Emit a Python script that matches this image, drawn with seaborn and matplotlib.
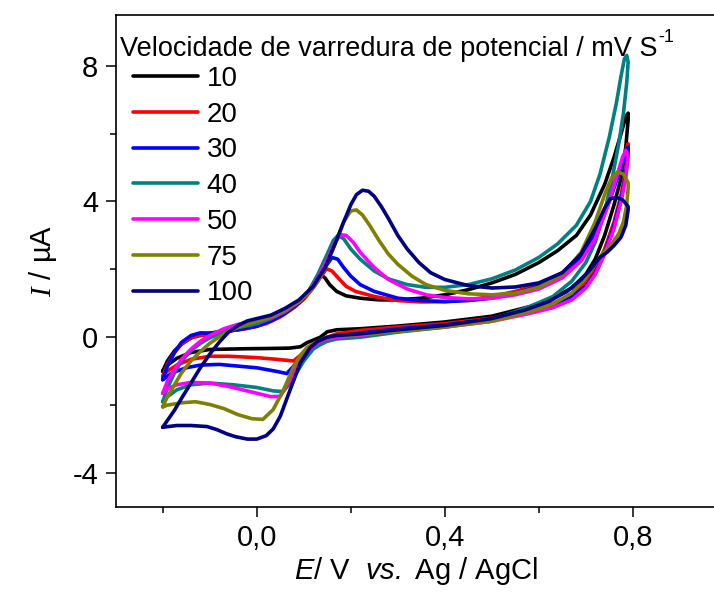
import matplotlib
matplotlib.use("Agg")
import matplotlib.pyplot as plt
import matplotlib.ticker as mticker
from matplotlib.lines import Line2D
import seaborn as sns
import pandas as pd

# ---- data ----
speeds = ["10", "20", "30", "40", "50", "75", "100"]
colors = ["#000000", "#FF0000", "#0000FF", "#008080", "#FF00FF", "#808000", "#000080"]

E_10 = [-0.2, -0.19, -0.175, -0.16, -0.14, -0.12, -0.1, -0.07, -0.04, 0.0, 0.03, 0.06, 0.08, 0.1, 0.115, 0.125, 0.135, 0.145, 0.155, 0.17, 0.19, 0.22, 0.26, 0.3, 0.35, 0.4, 0.45, 0.5, 0.55, 0.6, 0.64, 0.68, 0.71, 0.74, 0.76, 0.775, 0.785, 0.79,
        0.79, 0.785, 0.775, 0.76, 0.74, 0.72, 0.7, 0.67, 0.63, 0.58, 0.5, 0.4, 0.3, 0.22, 0.17, 0.15, 0.135, 0.107, 0.093, 0.07, 0.03, -0.03, -0.1, -0.14, -0.17, -0.19, -0.2]
I_10 = [-1.0, -0.7, -0.4, -0.2, -0.02, 0.08, 0.12, 0.18, 0.22, 0.32, 0.48, 0.7, 0.9, 1.15, 1.45, 1.68, 1.85, 1.75, 1.55, 1.35, 1.22, 1.15, 1.1, 1.1, 1.15, 1.25, 1.4, 1.6, 1.85, 2.2, 2.55, 3.0, 3.6, 4.5, 5.3, 6.0, 6.5, 6.6,
        6.4, 5.6, 4.7, 3.9, 3.0, 2.3, 1.85, 1.45, 1.15, 0.9, 0.62, 0.45, 0.33, 0.25, 0.22, 0.16, 0.0, -0.16, -0.28, -0.32, -0.33, -0.34, -0.36, -0.45, -0.62, -0.82, -1.0]

E_20 = [-0.2, -0.19, -0.175, -0.16, -0.14, -0.12, -0.1, -0.06, -0.02, 0.02, 0.05, 0.08, 0.1, 0.12, 0.135, 0.148, 0.16, 0.175, 0.19, 0.21, 0.25, 0.3, 0.35, 0.4, 0.45, 0.5, 0.55, 0.6, 0.65, 0.69, 0.72, 0.75, 0.77, 0.785, 0.79,
        0.79, 0.785, 0.775, 0.76, 0.74, 0.72, 0.7, 0.67, 0.63, 0.58, 0.5, 0.4, 0.3, 0.22, 0.17, 0.14, 0.12, 0.1, 0.078, 0.05, 0.0, -0.06, -0.1, -0.14, -0.17, -0.19, -0.2]
I_20 = [-1.15, -0.8, -0.45, -0.2, -0.02, 0.05, 0.08, 0.18, 0.26, 0.4, 0.6, 0.88, 1.12, 1.45, 1.75, 2.02, 1.95, 1.72, 1.5, 1.35, 1.2, 1.08, 1.04, 1.05, 1.1, 1.2, 1.35, 1.55, 1.9, 2.4, 3.1, 4.1, 4.9, 5.5, 5.7,
        5.5, 4.9, 4.2, 3.4, 2.6, 2.0, 1.6, 1.25, 1.0, 0.8, 0.56, 0.4, 0.3, 0.2, 0.1, -0.05, -0.2, -0.45, -0.7, -0.66, -0.6, -0.56, -0.56, -0.65, -0.82, -1.0, -1.15]

E_30 = [-0.2, -0.19, -0.175, -0.16, -0.14, -0.12, -0.1, -0.07, -0.03, 0.0, 0.03, 0.06, 0.09, 0.11, 0.13, 0.145, 0.16, 0.172, 0.185, 0.2, 0.22, 0.25, 0.3, 0.35, 0.4, 0.45, 0.5, 0.55, 0.6, 0.65, 0.69, 0.72, 0.75, 0.77, 0.785, 0.79,
        0.79, 0.785, 0.775, 0.76, 0.74, 0.72, 0.7, 0.67, 0.63, 0.58, 0.5, 0.4, 0.3, 0.22, 0.17, 0.14, 0.114, 0.085, 0.064, 0.04, 0.0, -0.04, -0.08, -0.12, -0.15, -0.18, -0.2]
I_30 = [-1.25, -0.85, -0.45, -0.15, 0.05, 0.13, 0.12, 0.16, 0.25, 0.33, 0.48, 0.7, 1.02, 1.3, 1.7, 2.05, 2.35, 2.3, 2.05, 1.8, 1.55, 1.35, 1.15, 1.08, 1.05, 1.08, 1.15, 1.3, 1.5, 1.85, 2.35, 3.0, 4.0, 4.8, 5.4, 5.6,
        5.4, 4.8, 4.1, 3.3, 2.5, 1.9, 1.5, 1.2, 0.95, 0.75, 0.52, 0.36, 0.25, 0.12, 0.02, -0.12, -0.36, -0.75, -1.07, -1.0, -0.9, -0.85, -0.8, -0.82, -0.9, -1.05, -1.25]

E_40 = [-0.2, -0.19, -0.175, -0.16, -0.14, -0.12, -0.1, -0.07, -0.04, 0.0, 0.03, 0.06, 0.09, 0.11, 0.13, 0.15, 0.163, 0.173, 0.185, 0.2, 0.22, 0.25, 0.28, 0.32, 0.36, 0.4, 0.45, 0.5, 0.55, 0.6, 0.64, 0.68, 0.71, 0.73, 0.75, 0.765, 0.775, 0.782, 0.787,
        0.79, 0.787, 0.78, 0.77, 0.755, 0.74, 0.72, 0.7, 0.67, 0.63, 0.58, 0.5, 0.4, 0.3, 0.22, 0.17, 0.15, 0.135, 0.12, 0.1, 0.08, 0.065, 0.056, 0.035, 0.0, -0.05, -0.1, -0.14, -0.17, -0.19, -0.2]
I_40 = [-1.9, -1.5, -1.05, -0.7, -0.4, -0.18, -0.02, 0.15, 0.28, 0.4, 0.55, 0.75, 1.05, 1.35, 1.85, 2.45, 2.85, 3.0, 2.9, 2.6, 2.3, 1.95, 1.72, 1.55, 1.47, 1.47, 1.55, 1.72, 1.98, 2.35, 2.75, 3.3, 4.0, 4.8, 5.9, 6.9, 7.7, 8.2, 8.3,
        8.1, 7.5, 6.6, 5.7, 4.6, 3.7, 2.8, 2.2, 1.65, 1.2, 0.9, 0.52, 0.3, 0.15, 0.0, -0.05, -0.12, -0.22, -0.35, -0.7, -1.15, -1.45, -1.6, -1.58, -1.48, -1.4, -1.35, -1.4, -1.55, -1.75, -1.9]

E_50 = [-0.2, -0.19, -0.175, -0.16, -0.14, -0.12, -0.1, -0.07, -0.04, 0.0, 0.03, 0.06, 0.09, 0.11, 0.13, 0.15, 0.165, 0.178, 0.19, 0.205, 0.22, 0.25, 0.28, 0.32, 0.36, 0.4, 0.45, 0.5, 0.55, 0.6, 0.65, 0.69, 0.72, 0.745, 0.765, 0.778, 0.785,
        0.79, 0.785, 0.775, 0.76, 0.74, 0.72, 0.7, 0.67, 0.63, 0.58, 0.5, 0.4, 0.3, 0.22, 0.17, 0.15, 0.135, 0.12, 0.093, 0.071, 0.05, 0.03, 0.0, -0.03, -0.06, -0.1, -0.14, -0.17, -0.19, -0.2]
I_50 = [-1.65, -1.3, -0.95, -0.65, -0.35, -0.12, 0.05, 0.25, 0.38, 0.47, 0.58, 0.77, 1.05, 1.32, 1.75, 2.3, 2.75, 3.02, 3.0, 2.8, 2.5, 2.05, 1.7, 1.42, 1.25, 1.17, 1.13, 1.15, 1.25, 1.42, 1.75, 2.25, 2.9, 3.8, 4.7, 5.3, 5.5,
        5.35, 4.7, 4.0, 3.2, 2.45, 1.85, 1.45, 1.1, 0.87, 0.7, 0.47, 0.3, 0.2, 0.05, 0.0, -0.05, -0.12, -0.25, -0.65, -1.25, -1.74, -1.75, -1.65, -1.55, -1.45, -1.35, -1.33, -1.4, -1.52, -1.65]

E_75 = [-0.2, -0.19, -0.175, -0.16, -0.14, -0.12, -0.1, -0.07, -0.04, 0.0, 0.03, 0.06, 0.09, 0.11, 0.13, 0.15, 0.17, 0.185, 0.2, 0.212, 0.225, 0.24, 0.26, 0.28, 0.3, 0.33, 0.36, 0.4, 0.45, 0.5, 0.55, 0.6, 0.65, 0.69, 0.72, 0.74, 0.755, 0.768, 0.78, 0.79,
        0.79, 0.787, 0.78, 0.77, 0.755, 0.735, 0.715, 0.7, 0.67, 0.63, 0.58, 0.5, 0.4, 0.3, 0.22, 0.17, 0.15, 0.13, 0.107, 0.092, 0.078, 0.057, 0.035, 0.013, -0.01, -0.04, -0.07, -0.1, -0.13, -0.16, -0.19, -0.2]
I_75 = [-2.05, -1.75, -1.4, -1.05, -0.7, -0.42, -0.18, 0.1, 0.3, 0.47, 0.6, 0.8, 1.05, 1.3, 1.65, 2.2, 2.85, 3.4, 3.72, 3.75, 3.6, 3.3, 2.85, 2.45, 2.15, 1.8, 1.55, 1.38, 1.28, 1.25, 1.3, 1.47, 1.85, 2.5, 3.4, 4.2, 4.7, 4.87, 4.8, 4.55,
        4.4, 3.9, 3.4, 3.05, 2.75, 2.45, 2.05, 1.75, 1.3, 0.98, 0.75, 0.47, 0.3, 0.17, 0.08, 0.05, 0.0, -0.12, -0.3, -0.55, -0.88, -1.55, -2.13, -2.42, -2.4, -2.28, -2.1, -1.98, -1.9, -1.93, -2.0, -2.05]

E_100 = [-0.2, -0.19, -0.175, -0.16, -0.14, -0.12, -0.1, -0.08, -0.06, -0.04, -0.02, 0.0, 0.03, 0.06, 0.09, 0.12, 0.145, 0.165, 0.185, 0.2, 0.212, 0.225, 0.238, 0.25, 0.265, 0.28, 0.3, 0.32, 0.345, 0.37, 0.4, 0.45, 0.5, 0.55, 0.6, 0.65, 0.69, 0.72, 0.74, 0.752, 0.765, 0.778, 0.79,
         0.79, 0.785, 0.775, 0.76, 0.745, 0.73, 0.71, 0.69, 0.66, 0.62, 0.57, 0.5, 0.4, 0.3, 0.22, 0.17, 0.15, 0.13, 0.114, 0.093, 0.071, 0.05, 0.035, 0.02, 0.0, -0.02, -0.045, -0.063, -0.085, -0.106, -0.14, -0.17, -0.2]
I_100 = [-2.65, -2.45, -2.15, -1.8, -1.35, -0.9, -0.5, -0.15, 0.15, 0.35, 0.48, 0.55, 0.65, 0.85, 1.1, 1.5, 2.05, 2.7, 3.4, 3.9, 4.2, 4.33, 4.3, 4.15, 3.85, 3.5, 3.0, 2.6, 2.2, 1.9, 1.7, 1.52, 1.45, 1.48, 1.6, 1.9, 2.45, 3.2, 3.8, 4.08, 4.12, 4.05, 3.85,
         3.75, 3.3, 2.95, 2.7, 2.5, 2.35, 2.0, 1.7, 1.35, 1.05, 0.8, 0.55, 0.35, 0.22, 0.1, 0.05, 0.0, -0.12, -0.3, -0.75, -1.55, -2.33, -2.7, -2.9, -3.0, -3.0, -2.93, -2.85, -2.72, -2.63, -2.6, -2.6, -2.65]

x_major = [0.0, 0.4, 0.8]
x_minor = [-0.2, 0.2, 0.6]
y_major = [-4, 0, 4, 8]
y_minor = [-2, 2, 6]

legend_title = "Velocidade de varredura de potencial / mV S"
legend_title_sup = "-1"

# ---- build table ----
curves = {"10": (E_10, I_10), "20": (E_20, I_20), "30": (E_30, I_30), "40": (E_40, I_40),
          "50": (E_50, I_50), "75": (E_75, I_75), "100": (E_100, I_100)}
rows = []
for s in speeds:
    E, I = curves[s]
    for k, (e, i) in enumerate(zip(E, I)):
        rows.append({"E": e, "I": i, "v": s, "order": k})
df = pd.DataFrame(rows)

sns.set_style("ticks")
plt.rcParams["font.family"] = ["Liberation Sans", "DejaVu Sans"]
plt.rcParams["mathtext.fontset"] = "custom"
plt.rcParams["mathtext.rm"] = "Liberation Sans"
plt.rcParams["mathtext.it"] = "Liberation Serif:italic"
plt.rcParams["mathtext.sf"] = "Liberation Sans:italic"
plt.rcParams["text.color"] = "black"
plt.rcParams["axes.labelcolor"] = "black"

fig = plt.figure(figsize=(7.14, 5.94), dpi=100)
ax = fig.add_axes([115.7 / 714, 1 - 507 / 594, (717 - 115.7) / 714, (507 - 14.7) / 594])

sns.lineplot(data=df, x="E", y="I", hue="v", hue_order=speeds, palette=colors,
             sort=False, estimator=None, linewidth=2.6, legend=False, ax=ax)
for ln in ax.lines:
    ln.set_solid_joinstyle("round")
    ln.set_solid_capstyle("round")

ax.set_xlim(-0.3, 0.979)
ax.set_ylim(-5, 9.5)

ax.xaxis.set_major_locator(mticker.FixedLocator(x_major))
ax.xaxis.set_minor_locator(mticker.FixedLocator(x_minor))
ax.yaxis.set_major_locator(mticker.FixedLocator(y_major))
ax.yaxis.set_minor_locator(mticker.FixedLocator(y_minor))
ax.xaxis.set_major_formatter(mticker.FuncFormatter(lambda v, p: f"{v:.1f}".replace(".", ",")))
ax.yaxis.set_major_formatter(mticker.FuncFormatter(lambda v, p: f"{int(round(v))}"))

ax.tick_params(axis="both", which="major", direction="out", length=7.5, width=1.1,
               labelsize=21, pad=5, color="black", labelcolor="black")
ax.tick_params(axis="both", which="minor", direction="out", length=4.5, width=1.1, color="black")
for sp in ax.spines.values():
    sp.set_linewidth(1.2)
    sp.set_color("black")

ax.set_xlabel("$\\mathsf{E}$/ V  $\\mathsf{vs.}$ Ag / AgCl", fontsize=21, labelpad=2)
ax.set_ylabel("$I$ / µA", fontsize=21, labelpad=10)

handles = [Line2D([0], [0], color=c, lw=2.6) for c in colors]
leg = ax.legend(handles, speeds, loc="upper left", frameon=False, fontsize=20,
                bbox_to_anchor=(133 / 714, 1 - 66 / 594), bbox_transform=fig.transFigure,
                borderpad=0, borderaxespad=0, handlelength=2.35, handletextpad=0.3,
                labelspacing=0.35)
for t in leg.get_texts():
    t.set_color("black")

title = fig.text(120 / 714, 1 - 56 / 594, legend_title, fontsize=19.5, ha="left", va="baseline")
fig.canvas.draw()
bb = title.get_window_extent()
fig.text((bb.x1 + 1) / 714, 1 - 42 / 594, legend_title_sup, fontsize=13, ha="left", va="baseline")

fig.savefig("out.png", dpi=100)
